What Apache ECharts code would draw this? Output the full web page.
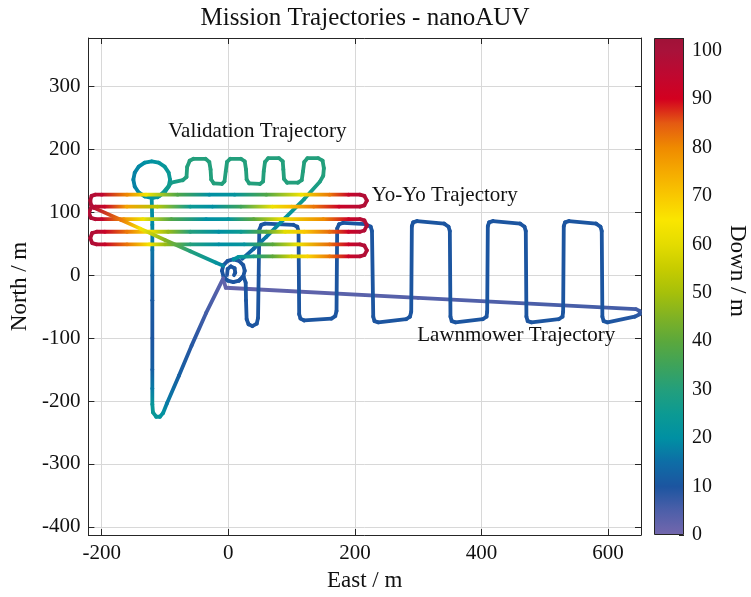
<!DOCTYPE html>
<html>
<head>
<meta charset="utf-8">
<script src="https://cdn.jsdelivr.net/npm/echarts@6/dist/echarts.min.js"></script>
<style>
  html, body { margin: 0; padding: 0; background: #fff; }
  #chart { width: 751px; height: 597px; }
</style>
</head>
<body>
<div id="chart"></div>
<script>
// each point: [east, north, down]
const yoyoPath = [
  [8, 25, 20], [16, 29, 22], [40, 30, 28], [70, 30, 40], [100, 30, 57], [125, 30, 68], [160, 30, 82], [190, 30, 92], [208, 30, 97],
  [215, 32, 98], [219, 39.5, 98], [215, 47, 98], [208, 49, 97],
  [190, 49, 92], [160, 49, 83], [110, 49, 62], [70, 49, 40], [25, 49, 22], [-15, 49, 20], [-60, 49, 30], [-100, 49, 48], [-125, 49, 64], [-160, 49, 82], [-195, 49, 93], [-208, 49, 97],
  [-215, 51, 98], [-218, 59, 98], [-215, 67, 98], [-208, 69, 97],
  [-195, 69, 93], [-160, 69, 82], [-125, 69, 65], [-95, 69, 48], [-60, 69, 30], [-15, 69, 20], [20, 69, 25], [60, 69, 40], [90, 69, 60], [120, 69, 70], [160, 69, 83], [190, 69, 92], [208, 69, 97],
  [215, 71, 98], [219, 79, 98], [215, 87, 98], [208, 89, 97],
  [190, 89, 92], [150, 89, 80], [85, 89, 62], [40, 89, 40], [0, 89, 22], [-35, 89, 20], [-90, 89, 38], [-135, 89, 62], [-165, 89, 78], [-200, 89, 94], [-210, 89, 97],
  [-217, 91, 98], [-220, 99, 98], [-217, 107, 98], [-210, 109, 97],
  [-195, 109, 93], [-160, 109, 76], [-112, 109, 52], [-60, 109, 25], [-25, 109, 20], [20, 109, 35], [70, 109, 62], [100, 109, 72], [135, 109, 82], [175, 109, 92], [208, 109, 97],
  [215, 111, 98], [219, 118.5, 98], [215, 126, 98], [208, 128, 97],
  [190, 128, 93], [160, 128, 82], [115, 128, 63], [60, 128, 38], [10, 128, 22], [-30, 128, 20], [-80, 128, 38], [-130, 128, 63], [-160, 128, 80], [-200, 128, 95], [-210, 128, 97],
  [-216, 126, 98], [-218, 119, 98], [-217, 112, 98], [-212, 107, 97],
  [-170, 88, 82], [-139, 74, 64], [-100, 56, 46], [-60, 38, 30], [-20, 20, 22], [-8, 15, 18]
];

const validationPath = [
  [-8, -5, 3], [-35, -60, 6], [-58, -112, 9], [-78, -160, 12], [-97, -204, 17], [-103, -219, 21], [-108, -225, 22], [-114, -225, 23], [-119, -218, 24],
  [-120, -205, 23], [-120, -180, 17], [-120, -150, 12], [-120, -100, 10], [-120, -40, 11], [-120, 0, 13], [-120, 40, 16], [-120, 80, 19], [-121, 123, 21],
  [-109.9, 125.2, 21], [-100.5, 131.5, 22], [-94.2, 140.9, 23], [-92, 152, 24], [-94.2, 163.1, 24], [-100.5, 172.5, 23], [-109.9, 178.8, 22], [-121, 181, 21],
  [-132.1, 178.8, 20], [-141.5, 172.5, 19], [-147.8, 163.1, 18], [-150, 152, 18], [-147.8, 140.9, 18], [-141.5, 131.5, 19], [-132.1, 125.2, 20], [-121, 123, 21],
  [-112, 124, 23], [-103, 131, 25], [-90, 147, 27], [-72, 151, 29],
  [-66, 156, 30], [-65, 172, 30], [-61, 182, 30], [-55, 185, 30], [-36, 185, 30], [-30, 180, 30], [-28, 168, 30], [-27, 152, 30], [-23, 146, 30], [-10, 145, 30],
  [-6, 149, 30], [-4, 165, 30], [-2, 180, 30], [3, 185, 30], [20, 185, 30], [26, 181, 30], [28, 168, 30], [29, 152, 30], [33, 146, 30], [50, 145, 30],
  [55, 149, 30], [56, 165, 30], [58, 180, 30], [63, 186, 30], [80, 186, 30], [86, 181, 30], [87, 168, 30], [88, 153, 30], [93, 147, 30], [110, 147, 30],
  [116, 151, 30], [118, 165, 30], [120, 180, 30], [125, 186, 30], [142, 186, 30], [149, 182, 30], [151, 170, 30], [150, 158, 30], [145, 149, 29],
  [120, 121, 26], [90, 91, 22], [60, 61, 17], [40, 42, 14], [22, 26, 12]
];

const lawnmowerPath = [
  [17, -8.6, 10], [23.6, -2, 10], [26, 7, 10], [23.6, 16, 10], [17, 22.6, 10], [8, 25, 10], [-1, 22.6, 10], [-7.6, 16, 10], [-10, 7, 10],
  [-7.6, -2, 10], [-1, -8.6, 10], [8, -11, 10], [17, -8.6, 10], [24, -2, 10],
  [27.5, -12, 10], [28, -40, 10], [29, -70, 10], [32, -78, 10], [38, -81, 10], [45, -77, 10], [47, -68, 10],
  [48, 0, 10], [49, 72, 10], [52, 80, 10], [58, 82, 10], [103, 80, 10], [109, 77, 10], [111, 70, 10],
  [112, -62, 10], [114, -69, 10], [120, -72, 10], [163, -69, 10], [169, -65, 10], [171, -57, 10],
  [172, 74, 10], [175, 81, 10], [181, 83, 10], [217, 81, 10], [225, 77, 10], [227, 70, 10],
  [229, -66, 10], [231, -73, 10], [237, -75, 10], [281, -70, 10], [287, -66, 10], [289, -58, 10],
  [290, 78, 10], [292, 84, 10], [298, 86, 10], [341, 82, 10], [348, 77, 10], [350, 70, 10],
  [351, -66, 10], [353, -73, 10], [359, -75, 10], [402, -70, 10], [408, -66, 10], [409, -58, 10],
  [410, 78, 10], [412, 84, 10], [418, 86, 10], [461, 82, 10], [468, 77, 10], [470, 70, 10],
  [471, -66, 10], [473, -73, 10], [479, -75, 10], [522, -70, 10], [528, -66, 10], [529, -58, 10],
  [530, 78, 10], [532, 84, 10], [538, 86, 10], [581, 82, 10], [588, 77, 10], [590, 70, 10],
  [591, -66, 10], [593, -73, 10], [599, -75, 10], [642, -66, 9], [650, -62, 8], [650, -57, 7], [644, -54, 6]
];

const hookPath = [[-2, 0, 9], [-1, 10, 10], [4, 14, 10], [10, 11, 10], [11, 4, 10], [9, 0, 10]];

const returnPath = [[644, -54, 6], [300, -36, 4], [-4, -20, 2], [-8, -6, 2]];

const noteX = [46, 342, 455];
const noteY = [228, 126, -96];
const noteText = ['Validation Trajectory', 'Yo-Yo Trajectory', 'Lawnmower Trajectory'];

// colour map, 0..100 m in steps of 5
const depthPalette = [
  '#7467ad', '#4d5fa9', '#1c55a0', '#0e6da6', '#0090a3', '#0c9a93', '#239f7c', '#3ea35a', '#5ba83c', '#80b224', '#a6c00a',
  '#c7cc00', '#e4dc00', '#fae600', '#f9c800', '#f5aa00', '#ef8a00', '#e45a12', '#d3001f', '#bf0830', '#a8123a'
];
const depthMax = 102.6;

const serif = '"Liberation Serif", "Times New Roman", serif';
const ink = '#262626';

const colorAt = (d) => echarts.color.lerp(Math.min(Math.max(d, 0), 100) / 100, depthPalette);

const toSegments = (path) => path.slice(1).map((p, i) => [path[i][0], path[i][1], p[0], p[1], path[i][2], p[2]]);

const renderSegment = (params, api) => {
  const a = api.coord([api.value(0), api.value(1)]);
  const b = api.coord([api.value(2), api.value(3)]);
  const c1 = colorAt(api.value(4));
  const c2 = colorAt(api.value(5));
  return {
    type: 'line',
    shape: { x1: a[0], y1: a[1], x2: b[0], y2: b[1] },
    style: {
      stroke: c1 === c2 ? c1 : new echarts.graphic.LinearGradient(a[0], a[1], b[0], b[1], [
        { offset: 0, color: c1 },
        { offset: 1, color: c2 }
      ], true),
      lineWidth: 3.8,
      lineCap: 'round'
    }
  };
};

const trackSeries = (name, segments) => ({
  name,
  type: 'custom',
  xAxisIndex: 0,
  yAxisIndex: 0,
  clip: true,
  encode: { x: [0, 2], y: [1, 3] },
  renderItem: renderSegment,
  data: segments
});

const xRange = { min: -221, max: 652 };
const yRange = { min: -413, max: 377 };

const tickStyle = { show: true, inside: true, length: 6, lineStyle: { color: ink } };
const lineStyle = { show: true, onZero: false, lineStyle: { color: ink, width: 1 } };

const chart = echarts.init(document.getElementById('chart'));

chart.setOption({
  animation: false,
  backgroundColor: '#fff',
  title: {
    text: 'Mission Trajectories - nanoAUV',
    left: 365,
    top: 6,
    padding: 0,
    textAlign: 'center',
    textStyle: { fontFamily: serif, fontSize: 25, fontWeight: 'normal', color: '#111' }
  },
  grid: [
    { left: 88, right: 110, top: 38, bottom: 62 },
    { left: 654, width: 30, top: 38, bottom: 62 }
  ],
  xAxis: [
    {
      gridIndex: 0, type: 'value', ...xRange, splitNumber: 5,
      name: 'East / m', nameLocation: 'middle', nameGap: 34,
      nameTextStyle: { fontFamily: serif, fontSize: 23, color: '#111' },
      axisLine: lineStyle, axisTick: tickStyle,
      axisLabel: { fontFamily: serif, fontSize: 21, color: '#111', margin: 8, formatter: (v) => (v % 200 === 0 ? String(v) : '') },
      splitLine: { show: true, lineStyle: { color: '#d8d8d8', width: 1 } }
    },
    {
      gridIndex: 0, type: 'value', ...xRange, splitNumber: 5, position: 'top',
      axisLine: lineStyle, axisTick: tickStyle, axisLabel: { show: false }, splitLine: { show: false }
    },
    {
      gridIndex: 1, type: 'category', data: ['Down'], show: false
    }
  ],
  yAxis: [
    {
      gridIndex: 0, type: 'value', ...yRange, splitNumber: 8,
      name: 'North / m', nameLocation: 'middle', nameGap: 48, nameRotate: 90,
      nameTextStyle: { fontFamily: serif, fontSize: 23, color: '#111' },
      axisLine: lineStyle, axisTick: tickStyle,
      axisLabel: { fontFamily: serif, fontSize: 21, color: '#111', margin: 8, formatter: (v) => (v % 100 === 0 ? String(v) : '') },
      splitLine: { show: true, lineStyle: { color: '#d8d8d8', width: 1 } }
    },
    {
      gridIndex: 0, type: 'value', ...yRange, splitNumber: 8, position: 'right',
      axisLine: lineStyle, axisTick: tickStyle, axisLabel: { show: false }, splitLine: { show: false }
    },
    {
      gridIndex: 1, type: 'value', min: 0, max: depthMax, interval: 10, position: 'right',
      axisLine: { show: false },
      axisTick: { show: true, inside: true, length: 5, lineStyle: { color: ink } },
      axisLabel: { fontFamily: serif, fontSize: 20, color: '#111', margin: 8, formatter: (v) => (v % 10 === 0 ? String(v) : '') },
      splitLine: { show: false }
    }
  ],
  graphic: [
    {
      type: 'text', x: 737, y: 271, rotation: -Math.PI / 2,
      style: { text: 'Down / m', font: '23px ' + serif, fill: '#111', align: 'center', verticalAlign: 'middle' }
    }
  ],
  series: [
    trackSeries('Return', toSegments(returnPath)),
    trackSeries('Lawnmower', toSegments(lawnmowerPath).concat(toSegments(hookPath))),
    trackSeries('Validation', toSegments(validationPath)),
    trackSeries('Yo-Yo', toSegments(yoyoPath)),
    {
      name: 'Labels',
      type: 'custom',
      xAxisIndex: 0,
      yAxisIndex: 0,
      encode: { x: 0, y: 1 },
      data: noteX.map((x, i) => [x, noteY[i]]),
      renderItem: (params, api) => {
        const p = api.coord([api.value(0), api.value(1)]);
        return {
          type: 'text', x: p[0], y: p[1],
          style: { text: noteText[params.dataIndex], font: '21px ' + serif, fill: '#111', align: 'center', verticalAlign: 'middle' }
        };
      }
    },
    {
      name: 'Colorbar',
      type: 'bar',
      xAxisIndex: 2,
      yAxisIndex: 2,
      barWidth: '100%',
      data: [depthMax],
      itemStyle: {
        borderColor: ink,
        borderWidth: 1,
        color: new echarts.graphic.LinearGradient(0, 1, 0, 0,
          depthPalette.map((c, i) => ({ offset: (i * 5) / depthMax, color: c })).concat([{ offset: 1, color: '#a01238' }]))
      }
    }
  ]
});
</script>
</body>
</html>
